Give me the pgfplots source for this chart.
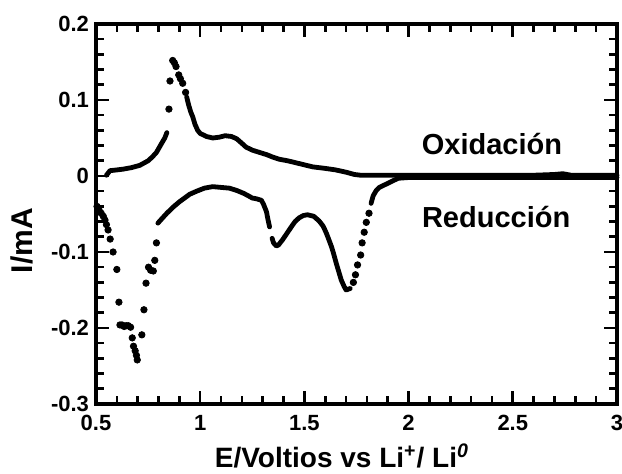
\documentclass[border=0pt]{standalone}
\usepackage{fontspec}
\setmainfont{Liberation Sans}
\usepackage{pgfplots}
\pgfplotsset{compat=1.18}
\begin{document}
\begin{tikzpicture}
\begin{axis}[
  scale only axis, width=260.5pt, height=190pt,
  xmin=0.5, xmax=3, ymin=-0.3, ymax=0.2,
  xtick={0.5,1,1.5,2,2.5,3}, xticklabels={0.5,1,1.5,2,2.5,3},
  ytick={-0.3,-0.2,-0.1,0,0.1,0.2}, yticklabels={-0.3,-0.2,-0.1,0,0.1,0.2},
  minor x tick num=4, minor y tick num=4,
  tick align=inside, major tick length=6.5pt, minor tick length=4pt,
  axis line style={line width=1.6pt},
  every tick/.style={line width=1.3pt, black},
  /pgf/number format/assume math mode=true,
  tick label style={font=\bfseries\fontsize{11}{12}\selectfont},
  xticklabel style={yshift=-2pt},
  xlabel={E/Voltios vs Li\textsuperscript{+}/ Li\textsuperscript{\itshape 0}},
  ylabel={I/mA},
  xlabel style={font=\bfseries\fontsize{14}{16}\selectfont, at={(axis description cs:0.472,-0.137)}, anchor=center},
  ylabel style={font=\bfseries\fontsize{15}{17}\selectfont, at={(axis description cs:-0.142,0.43)}, anchor=center},
  clip=false,
]
% Oxidacion
\addplot[black, line width=2.4pt, line cap=round, line join=round] coordinates {
(0.55,0.001) (0.567,0.007) (0.60,0.008) (0.63,0.009) (0.67,0.011) (0.71,0.014)
(0.75,0.020) (0.77,0.025) (0.79,0.031) (0.815,0.043) (0.83,0.050) (0.84,0.057)
};
\addplot[only marks, mark=*, mark size=1.6pt, black] coordinates {
(0.85,0.088) (0.855,0.125) (0.868,0.152) (0.876,0.149) (0.884,0.144)
(0.897,0.133) (0.905,0.128) (0.916,0.122) (0.93,0.110)
};
\addplot[black, line width=2.4pt, line cap=round, line join=round] coordinates {
(0.935,0.104) (0.945,0.093) (0.955,0.084) (0.964,0.078) (0.975,0.068) (0.988,0.060)
(1.0,0.056) (1.03,0.052) (1.06,0.050) (1.09,0.051) (1.12,0.053) (1.15,0.052)
(1.175,0.049) (1.20,0.043) (1.22,0.038) (1.25,0.034) (1.285,0.031) (1.32,0.028)
(1.347,0.025) (1.38,0.022) (1.42,0.020) (1.48,0.016) (1.54,0.012) (1.60,0.010)
(1.65,0.008) (1.70,0.005) (1.74,0.002) (1.77,0.001) (1.85,0.001) (2.2,0.001)
(2.6,0.001) (2.70,0.002) (2.74,0.003) (2.78,0.001) (3.0,0.001)
};
% Reduccion
\addplot[black, line width=2.4pt, line cap=round, line join=round] coordinates {
(3.0,-0.002) (2.5,-0.002) (2.0,-0.002) (1.95,-0.003) (1.92,-0.007) (1.89,-0.011)
(1.86,-0.015) (1.845,-0.019) (1.83,-0.026) (1.82,-0.036)
};
\addplot[only marks, mark=*, mark size=1.6pt, black] coordinates {
(1.81,-0.049) (1.797,-0.061) (1.787,-0.074) (1.777,-0.088) (1.77,-0.104)
(1.755,-0.117) (1.745,-0.130) (1.735,-0.140)
};
\addplot[black, line width=2.4pt, line cap=round, line join=round] coordinates {
(1.72,-0.148) (1.70,-0.150) (1.69,-0.145) (1.677,-0.137) (1.665,-0.126) (1.653,-0.115)
(1.64,-0.102) (1.63,-0.093) (1.615,-0.082) (1.605,-0.075) (1.59,-0.066) (1.57,-0.059)
(1.545,-0.053) (1.515,-0.051) (1.495,-0.052) (1.475,-0.055) (1.455,-0.060) (1.437,-0.067)
(1.415,-0.076) (1.395,-0.084) (1.375,-0.091) (1.365,-0.092) (1.352,-0.088) (1.345,-0.082)
};
\addplot[black, line width=2.4pt, line cap=round, line join=round] coordinates {
(1.333,-0.067) (1.325,-0.057) (1.318,-0.047) (1.305,-0.038) (1.294,-0.032) (1.27,-0.030)
(1.25,-0.029) (1.237,-0.027) (1.21,-0.023) (1.175,-0.019) (1.14,-0.016) (1.10,-0.015)
(1.06,-0.014) (1.02,-0.016) (0.983,-0.020) (0.95,-0.024) (0.92,-0.030) (0.90,-0.034)
(0.87,-0.041) (0.84,-0.049) (0.82,-0.055) (0.797,-0.062)
};
\addplot[only marks, mark=*, mark size=1.6pt, black] coordinates {
(0.79,-0.088) (0.782,-0.111) (0.775,-0.125) (0.762,-0.124) (0.752,-0.120)
(0.740,-0.141) (0.730,-0.176) (0.720,-0.209) (0.698,-0.242) (0.694,-0.236)
(0.688,-0.230) (0.680,-0.224) (0.674,-0.213) (0.666,-0.199) (0.655,-0.197)
(0.645,-0.197) (0.635,-0.198) (0.625,-0.196) (0.615,-0.196) (0.610,-0.166)
(0.600,-0.123) (0.582,-0.100) (0.568,-0.083) (0.558,-0.071) (0.550,-0.064)
(0.543,-0.058) (0.535,-0.053) (0.525,-0.049) (0.515,-0.045) (0.505,-0.040)
};
\node[font=\bfseries\fontsize{14.5}{16}\selectfont] at (axis cs:2.40,0.042) {Oxidación};
\node[font=\bfseries\fontsize{14.5}{16}\selectfont] at (axis cs:2.42,-0.054) {Reducción};
\end{axis}
\pgfresetboundingbox
\path ([xshift=-48pt,yshift=-35pt]current axis.south west) rectangle ([xshift=2.5pt,yshift=12pt]current axis.north east);
\end{tikzpicture}
\end{document}
